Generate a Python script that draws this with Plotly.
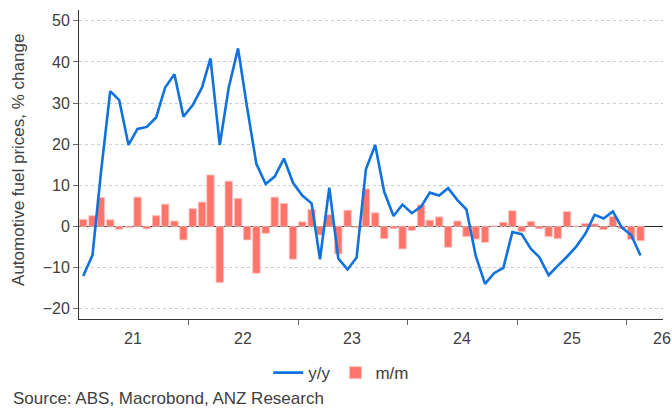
import pandas as pd
import plotly.graph_objects as go

# Monthly observations, Jan 2021 .. Feb 2026 (plotted mid-month)
months = pd.date_range("2021-01-01", periods=62, freq="MS") + pd.Timedelta(days=14)

yoy = [
    -12.1, -7.0, 13.0, 32.9, 30.7, 19.8, 23.7, 24.2, 26.5, 33.8, 37.0, 26.7,
    29.5, 33.8, 40.9, 19.8, 33.8, 43.3, 29.0, 15.2, 10.3, 12.1, 16.5, 10.6,
    7.5, 5.6, -8.0, 9.4, -7.8, -10.5, -7.6, 13.9, 19.8, 8.4, 2.5, 5.3,
    3.2, 4.8, 8.2, 7.5, 9.3, 6.4, 4.1, -7.2, -14.0, -11.4, -10.1, -1.4,
    -1.9, -5.5, -7.5, -11.9, -9.6, -7.4, -5.0, -1.8, 2.8, 1.9, 3.6, -0.3,
    -2.1, -7.1,
]

mom = [
    1.7, 2.6, 7.0, 1.6, -0.7, -0.3, 7.1, -0.6, 2.6, 5.4, 1.3, -3.3,
    4.3, 5.9, 12.5, -13.7, 11.0, 6.8, -3.3, -11.4, -1.7, 7.1, 5.6, -8.0,
    1.1, 4.1, -2.1, 2.8, -6.7, 3.9, -0.3, 9.1, 3.3, -3.0, -0.5, -5.5,
    -1.0, 5.2, 1.5, 2.3, -5.1, 1.3, -2.5, -3.1, -3.9, 0.1, 1.0, 3.8,
    -1.3, 1.2, -0.6, -2.5, -3.0, 3.6, 0.1, 0.7, 0.6, -0.8, 2.4, -0.5,
    -3.2, -3.5,
]

year_labels = ["21", "22", "23", "24", "25", "26"]
year_ticks = ["2022-01-01", "2023-01-01", "2024-01-01", "2025-01-01", "2026-01-01"]
y_ticks = [-20, -10, 0, 10, 20, 30, 40, 50]

FONT = "Liberation Sans, Arial, sans-serif"
TXT = "#404040"

fig = go.Figure()
fig.add_trace(go.Scatter(
    x=months, y=yoy, name="y/y", mode="lines",
    line=dict(color="#0F72DE", width=2.6),
))
fig.add_trace(go.Bar(
    x=months, y=mom, name="m/m",
    marker=dict(color="#FF756B", line=dict(color="#FFC2BD", width=0.8)),
))

annotations = []
for i, lab in enumerate(year_labels[:-1]):
    annotations.append(dict(
        x=f"20{lab}-07-01", y=-0.0615, xref="x", yref="paper",
        text=lab, showarrow=False, xanchor="center", yanchor="middle",
        font=dict(size=16, color=TXT, family=FONT),
    ))
annotations.append(dict(
    x=1.0, y=-0.0615, xref="paper", yref="paper", xshift=-1,
    text=year_labels[-1], showarrow=False, xanchor="center", yanchor="middle",
    font=dict(size=16, color=TXT, family=FONT),
))
annotations.append(dict(
    x=-0.116, y=-0.256, xref="paper", yref="paper",
    text="Source: ABS, Macrobond, ANZ Research", showarrow=False,
    xanchor="left", yanchor="middle",
    font=dict(size=17, color=TXT, family=FONT),
))
annotations.append(dict(
    x=-0.1026, y=0.515, xref="paper", yref="paper",
    text="Automotive fuel prices, % change", showarrow=False, textangle=-90,
    xanchor="center", yanchor="middle",
    font=dict(size=17, color=TXT, family=FONT),
))

fig.update_layout(
    width=672, height=408,
    margin=dict(l=79, r=9, t=10, b=89, autoexpand=False),
    paper_bgcolor="white", plot_bgcolor="white",
    font=dict(family=FONT, size=16, color=TXT),
    bargap=0.12,
    showlegend=True,
    legend=dict(
        orientation="h", x=0.449, xanchor="center", y=-0.175, yanchor="middle",
        font=dict(size=17, color=TXT, family=FONT),
        itemwidth=30, tracegroupgap=0, bgcolor="rgba(0,0,0,0)",
    ),
    annotations=annotations,
)
fig.update_xaxes(
    type="date", range=["2021-01-01", "2026-05-01"],
    showgrid=False, zeroline=False,
    showline=True, linecolor="#333333", linewidth=1,
    tickmode="array", tickvals=year_ticks, showticklabels=False,
    ticks="outside", ticklen=5, tickcolor="#666666", tickwidth=1,
)
fig.update_yaxes(
    range=[-22.55, 52.65], tickmode="array", tickvals=y_ticks,
    showgrid=True, gridcolor="#C3CFD9", gridwidth=1, griddash="dot",
    zeroline=True, zerolinecolor="#222222", zerolinewidth=1,
    showline=True, linecolor="#333333", linewidth=1,
    ticks="outside", ticklen=5, tickcolor="#666666", tickwidth=1,
    tickfont=dict(size=16, color=TXT, family=FONT),
)

fig.write_html(
    "out.html",
    config={"displayModeBar": False},
    post_script="document.body.style.margin='0';document.body.style.overflow='hidden';",
)
